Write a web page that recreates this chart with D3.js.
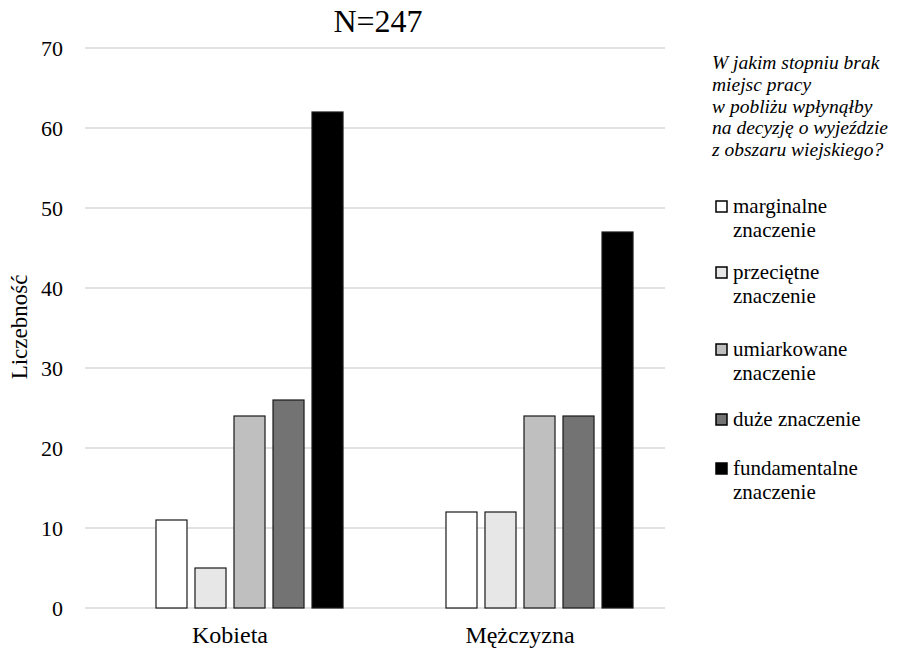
<!DOCTYPE html>
<html><head><meta charset="utf-8">
<script src="https://cdn.jsdelivr.net/npm/d3@7"></script>
<style>body{margin:0;background:#fff}svg{display:block}</style>
</head><body><svg id="c" width="911" height="648"></svg>
<script>
const categories = ["Kobieta", "Mężczyzna"];
const seriesNames = ["marginalne znaczenie", "przeciętne znaczenie", "umiarkowane znaczenie", "duże znaczenie", "fundamentalne znaczenie"];
const legendLines = [["marginalne", "znaczenie"], ["przeciętne", "znaczenie"], ["umiarkowane", "znaczenie"], ["duże znaczenie"], ["fundamentalne", "znaczenie"]];
const marginalne = [11, 12];
const przecietne = [5, 12];
const umiarkowane = [24, 24];
const duze = [26, 24];
const fundamentalne = [62, 47];
const yTicks = [0, 10, 20, 30, 40, 50, 60, 70];
const colors = ["#ffffff", "#e7e7e7", "#bfbfbf", "#737373", "#000000"];
const legendTitle = ["W jakim stopniu brak", "miejsc pracy", "w pobliżu wpłynąłby", "na decyzję o wyjeździe", "z obszaru wiejskiego?"];
const values = [marginalne, przecietne, umiarkowane, duze, fundamentalne];

const FONT = "Liberation Serif";
const svg = d3.select("#c");
const L = 85, R = 665, T = 48, B = 608;
const y = d3.scaleLinear().domain([0, 70]).range([B, T]);
const x0 = d3.scaleBand().domain(categories).range([L, R]);
// Excel layout: an empty leading slot before the five series
const slots = ["_empty"].concat(seriesNames);
const x1 = d3.scaleBand().domain(slots).range([0, x0.bandwidth()]).paddingInner(0.205).paddingOuter(0.82);

// grid
svg.append("g").selectAll("line").data(yTicks).join("line")
  .attr("x1", L).attr("x2", R).attr("y1", d => y(d)).attr("y2", d => y(d))
  .attr("stroke", "#d9d9d9").attr("stroke-width", 1.5);

// y axis labels
const yAxis = d3.axisLeft(y).tickValues(yTicks).tickSize(0).tickPadding(22);
const gy = svg.append("g").attr("transform", `translate(${L},0)`).call(yAxis);
gy.attr("font-family", null).attr("font-size", null);
gy.select(".domain").remove();
gy.selectAll("text").style("font-family", FONT).style("font-size", "22px").style("fill", "#000");

// bars
const groups = svg.append("g").selectAll("g").data(categories).join("g")
  .attr("transform", d => `translate(${x0(d)},0)`);
groups.selectAll("rect").data((c, ci) => seriesNames.map((s, si) => ({s, si, v: values[si][ci]})))
  .join("rect")
  .attr("x", d => x1(d.s)).attr("width", x1.bandwidth())
  .attr("y", d => y(d.v)).attr("height", d => y(0) - y(d.v))
  .attr("fill", d => colors[d.si]).attr("stroke", "#1a1a1a").attr("stroke-width", 1.2);

// x axis labels
const xAxis = d3.axisBottom(x0).tickSize(0).tickPadding(18);
const gx = svg.append("g").attr("transform", `translate(0,${B})`).call(xAxis);
gx.attr("font-family", null).attr("font-size", null);
gx.select(".domain").remove();
gx.selectAll("text").style("font-family", FONT).style("font-size", "24px").style("fill", "#000");

// title
svg.append("text").attr("x", 378).attr("y", 32).attr("text-anchor", "middle")
  .style("font-family", FONT).style("font-size", "32px").text("N=247");

// y axis title
svg.append("text").attr("transform", "translate(27,327) rotate(-90)").attr("text-anchor", "middle")
  .style("font-family", FONT).style("font-size", "23px").text("Liczebność");

// legend title
legendTitle.forEach((t, i) => svg.append("text").attr("x", 712).attr("y", 69 + i * 21.8)
  .style("font-family", FONT).style("font-size", "19.5px").style("font-style", "italic").text(t));

// legend items (baselines as laid out by the original)
const legendY = [213, 279, 356, 426, 475];
legendLines.forEach((lines, i) => {
  const g = svg.append("g");
  const by = legendY[i];
  g.append("rect").attr("x", 716).attr("y", by - 12).attr("width", 11).attr("height", 11)
    .attr("fill", colors[i]).attr("stroke", "#000").attr("stroke-width", 1.5);
  lines.forEach((t, j) => g.append("text").attr("x", 733).attr("y", by + j * 24)
    .style("font-family", FONT).style("font-size", "21px").text(t));
});
</script></body></html>
